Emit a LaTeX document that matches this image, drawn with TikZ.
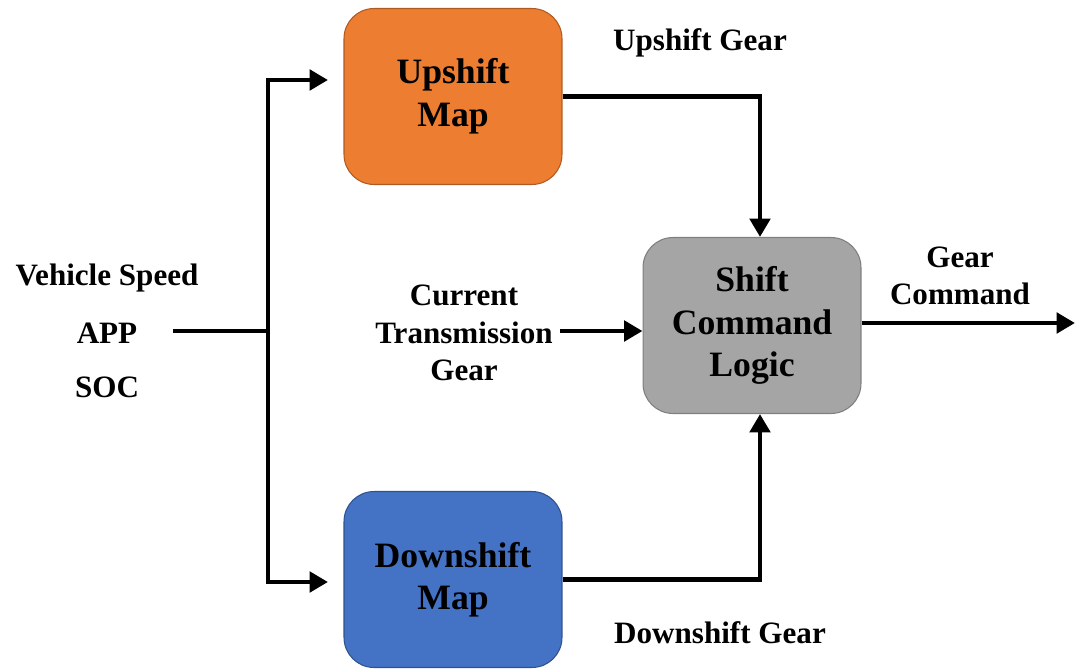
\documentclass[tikz,border=0pt]{standalone}
\usepackage{fontspec}
\setmainfont{Liberation Serif}
\usetikzlibrary{arrows.meta}
\definecolor{upfill}{HTML}{ED7D31}
\definecolor{upline}{HTML}{AE5A21}
\definecolor{downfill}{HTML}{4472C4}
\definecolor{downline}{HTML}{2F528F}
\definecolor{logicfill}{HTML}{A5A5A5}
\definecolor{logicline}{HTML}{7F7F7F}
\tikzset{
  block/.style={rounded corners=0.6cm, minimum width=4.36cm, minimum height=3.52cm,
    line width=0.6pt, align=center, text=black,
    font=\fontsize{20.3}{24.2}\selectfont\bfseries},
  lbl/.style={align=center, inner sep=1pt,
    font=\fontsize{17.7}{21.3}\selectfont\bfseries},
  wire/.style={line width=2.8pt},
  arr/.style={wire, -{Triangle[length=10.5pt,width=11.5pt]}}
}
\begin{document}
\begin{tikzpicture}[x=0.02cm, y=-0.02cm]
  \useasboundingbox (0,0) rectangle (1075,669);

  % blocks
  \node[block, fill=upfill, draw=upline] (up) at (453,96.5) {Upshift\\Map};
  \node[block, fill=downfill, draw=downline] (down) at (453,579.5) {Downshift\\Map};
  \node[block, fill=logicfill, draw=logicline] (logic) at (752,325.5) {Shift\\Command\\Logic};

  % input labels
  \node[lbl] (vs) at (107,278) {Vehicle Speed};
  \node[lbl] (app) at (107,333) {APP};
  \node[lbl] (soc) at (107,387) {SOC};
  \node[lbl] (cur) at (464,333) {Current\\Transmission\\Gear};
  \node[lbl] (gc) at (960,276) {Gear\\Command};
  \node[lbl] (ug) at (700,43) {Upshift Gear};
  \node[lbl] (dg) at (720,633) {Downshift Gear};

  % junction points
  \coordinate (inp) at (173,331);
  \coordinate (j) at (268,331);
  \coordinate (ua) at (328,80);
  \coordinate (da) at (328,582);
  \coordinate (cin) at (560,331);
  \coordinate (out) at (1075,323);

  % connectors
  \draw[wire] (inp) -- (j);
  \draw[arr] (j) |- (ua);
  \draw[arr] (j) |- (da);
  \draw[arr] (up.east) -| ([xshift=0.16cm]logic.north);
  \draw[arr] (down.east) -| ([xshift=0.16cm]logic.south);
  \draw[arr] (cin) -- (logic.west |- cin);
  \draw[arr] (logic.east |- out) -- (out);
\end{tikzpicture}
\end{document}
